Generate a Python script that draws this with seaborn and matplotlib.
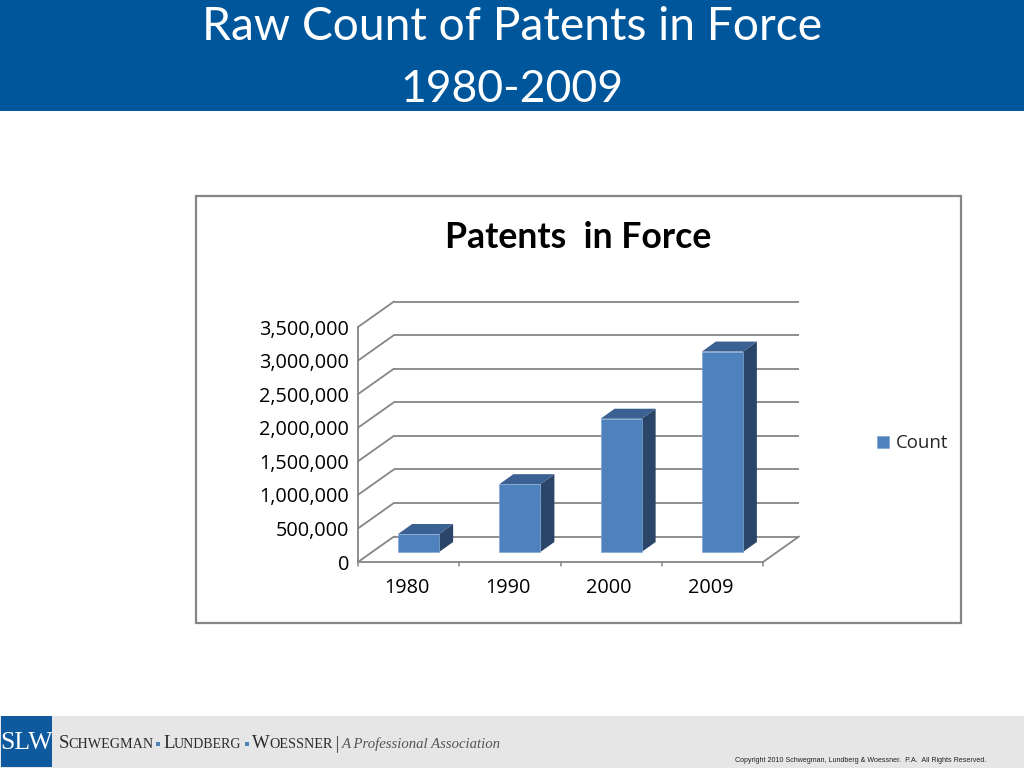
import matplotlib
matplotlib.use("Agg")
import matplotlib.pyplot as plt
from matplotlib.patches import Polygon, Rectangle
from matplotlib.transforms import Affine2D
import pandas as pd
import seaborn as sns

years = ["1980", "1990", "2000", "2009"]
counts = [268000, 1010000, 1985000, 2985000]
y_ticks = [0, 500000, 1000000, 1500000, 2000000, 2500000, 3000000, 3500000]

title_lines = ["Raw Count of Patents in Force", "1980-2009"]
chart_title = "Patents  in Force"
series_name = "Count"
copyright_text = "Copyright 2010 Schwegman, Lundberg & Woessner.  P.A.  All Rights Reserved."

BLUE = "#4F81BD"
TOP = "#3A6192"
SIDE = "#2A4568"
GRID = "#868686"
HEADER = "#00569B"
FOOTER = "#E6E6E6"
SANS = "Open Sans"

sns.set_theme(style="white")
plt.rcParams["font.family"] = [SANS, "DejaVu Sans"]

W, H = 1024, 768
fig = plt.figure(figsize=(W / 100, H / 100), dpi=100, facecolor="white")

# background layer in pixel coordinates
bg = fig.add_axes([0, 0, 1, 1], zorder=0)
bg.set_xlim(0, W)
bg.set_ylim(H, 0)
bg.axis("off")

bg.add_patch(Rectangle((0, 0), W, 110.5, fc=HEADER, ec="none"))
bg.text(512, 27, title_lines[0], color="white", fontsize=33.2, ha="center", va="center", family="Lato")
bg.text(512, 89, title_lines[1], color="white", fontsize=32, ha="center", va="center", family="Lato")

bg.add_patch(Rectangle((196, 196), 765, 427, fc="white", ec=GRID, lw=1.6))
bg.text(578, 238, chart_title, color="black", fontsize=25.7, fontweight="bold", ha="center", va="center", family="Lato")

# footer
bg.add_patch(Rectangle((0, 716), W, 52, fc=FOOTER, ec="none"))
bg.add_patch(Rectangle((1, 716), 51, 51, fc="#0F5A9E", ec="none"))
bg.text(27, 743, "SLW", color="white", fontsize=18.5, ha="center", va="center", family="Liberation Serif")
for x, s, size in [(59, "S", 13.5), (68.5, "CHWEGMAN", 10.2), (163, "L", 13.5), (173.5, "UNDBERG", 10.0),
                   (252, "W", 13.5), (269, "OESSNER", 10.2)]:
    bg.text(x, 748, s, color="#2B2B2B", fontsize=size, ha="left", va="baseline", family="Liberation Serif")
bg.add_patch(Rectangle((156, 742), 4, 4, fc="#4F81BD", ec="none"))
bg.add_patch(Rectangle((245, 742), 4, 4, fc="#4F81BD", ec="none"))
bg.plot([337, 337], [736, 752], color="#555555", lw=0.8)
bg.text(342, 748, "A Professional Association", color="#555555", fontsize=10.65, style="italic",
        ha="left", va="baseline", family="Liberation Serif")
bg.text(735, 760, copyright_text, color="#222222", fontsize=5.1, ha="left", va="center", family="Liberation Sans")

# chart: axes rectangle is the front plane of the 3d box
left, right, top, bottom = 358, 763, 327, 562
ax = fig.add_axes([left / W, 1 - bottom / H, (right - left) / W, (bottom - top) / H], zorder=1)
ax.patch.set_alpha(0)

df = pd.DataFrame({"year": years, "count": counts})
sns.barplot(data=df, x="year", y="count", color=BLUE, saturation=1, width=0.405, label=series_name, ax=ax, zorder=3)
ax.set_xlim(-0.5, 3.5)
ax.set_ylim(0, y_ticks[-1])
ax.set_xlabel("")
ax.set_ylabel("")
ax.set_yticks(y_ticks)
ax.set_yticklabels([f"{v:,}" for v in y_ticks])
ax.tick_params(axis="both", labelsize=14.3, colors="black", length=0)
ax.tick_params(axis="x", pad=11.5)
ax.tick_params(axis="y", pad=6.5)
for label in ax.get_xticklabels():
    label.set_transform(label.get_transform() + Affine2D().translate(-2, 0))
sns.despine(ax=ax, top=True, right=True)
for side in ["left", "bottom"]:
    ax.spines[side].set_color(GRID)
    ax.spines[side].set_linewidth(1.3)

# back wall gridlines and the receding edges, shifted in pixels from the front plane
back = ax.transData + Affine2D().translate(36, 25.5)
ax.hlines(y_ticks, -0.5, 3.5, color=GRID, lw=1.3, transform=back, clip_on=False, zorder=1)
for v in y_ticks:
    x0, y0 = ax.transData.transform((-0.5, v))
    ax.plot([x0, x0 + 36], [y0, y0 + 25.5], color=GRID, lw=1.3, transform=None, clip_on=False, zorder=1)
x0, y0 = ax.transData.transform((3.5, 0))
ax.plot([x0, x0 + 36], [y0, y0 + 25.5], color=GRID, lw=1.3, transform=None, clip_on=False, zorder=1)

# small tick marks between categories
for i in range(5):
    x0, y0 = ax.transData.transform((i - 0.5, 0))
    ax.plot([x0, x0], [y0, y0 - 4], color=GRID, lw=1.1, transform=None, clip_on=False, zorder=1)

# bars sit partway into the floor, with a depth face on top and on the right
shift = Affine2D().translate(10, 10)
dx, dy = 14, 10
for bar in ax.patches:
    bar.set_transform(ax.transData + shift)
    bar.set_clip_on(False)
    bar.set_edgecolor("#7FA6D3")
    bar.set_linewidth(0.5)
    (x1, y1), (x2, y2) = (ax.transData + shift).transform(
        [(bar.get_x(), 0), (bar.get_x() + bar.get_width(), bar.get_height())])
    ax.add_patch(Polygon([(x2, y1), (x2 + dx, y1 + dy), (x2 + dx, y2 + dy), (x2, y2)],
                         fc=SIDE, ec="none", transform=None, clip_on=False, zorder=2.9))
    ax.add_patch(Polygon([(x1, y2), (x2, y2), (x2 + dx, y2 + dy), (x1 + dx, y2 + dy)],
                         fc=TOP, ec="none", transform=None, clip_on=False, zorder=2.9))

ax.legend(loc="center left", bbox_to_anchor=(877, 443.5), bbox_transform=bg.transData, frameon=False,
          fontsize=13.4, handlelength=0.62, handleheight=0.62, handletextpad=0.4, borderpad=0, borderaxespad=0)

fig.savefig("out.png", dpi=100)
